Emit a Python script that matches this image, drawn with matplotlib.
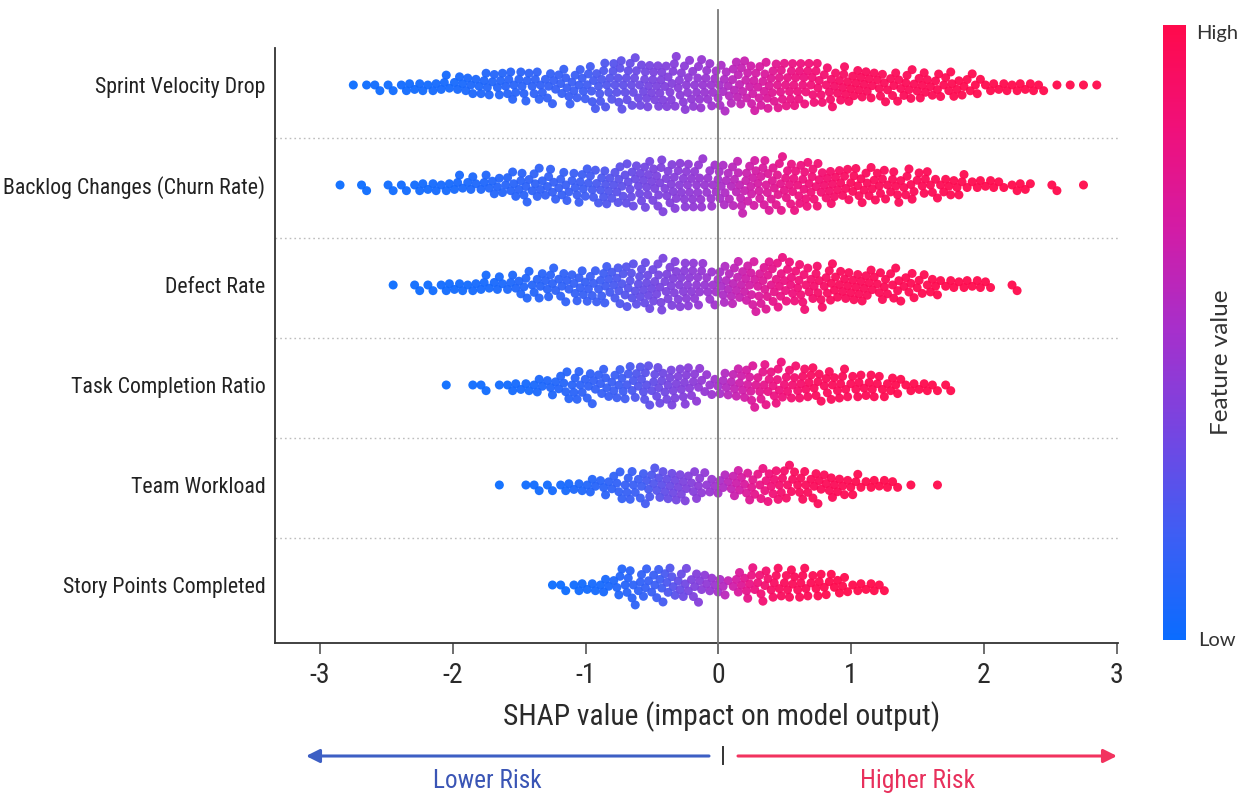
import numpy as np
import matplotlib
matplotlib.use("Agg")
import matplotlib.pyplot as plt
from matplotlib import font_manager
from matplotlib.colors import LinearSegmentedColormap, Normalize
from matplotlib.cm import ScalarMappable
from matplotlib.lines import Line2D

# ---------------------------------------------------------------- data
features = [
    "Sprint Velocity Drop",
    "Backlog Changes (Churn Rate)",
    "Defect Rate",
    "Task Completion Ratio",
    "Team Workload",
    "Story Points Completed",
]

# SHAP values are summarised as dot counts per 0.1-wide bin,
# starting at the left edge given for each feature.
bin_width = 0.1

sprint_start = -2.8
sprint_counts = [1, 1, 2, 2, 3, 3, 3, 4, 5, 5, 6, 6, 7, 7, 7, 7, 8, 8, 9, 10,
                 11, 11, 11, 11, 11, 11, 11, 10,
                 10, 11, 11, 11, 11, 11, 10, 10, 9, 9, 8, 7, 7, 7, 7, 7, 6, 6,
                 5, 4, 3, 3, 3, 3, 2, 1, 1, 1, 1]

backlog_start = -2.9
backlog_counts = [1, 0, 2, 0, 2, 2, 3, 3, 3, 4, 4, 5, 5, 6, 7, 7, 7, 7, 8, 8,
                  9, 9, 10, 11, 11, 11, 11, 11, 9,
                  10, 11, 11, 11, 11, 11, 11, 10, 9, 8, 8, 8, 7, 7, 7, 6, 5,
                  5, 4, 3, 3, 2, 3, 2, 0, 2, 0, 1]

defect_start = -2.5
defect_counts = [1, 0, 2, 2, 3, 3, 3, 4, 4, 5, 6, 6, 7, 7, 8, 8, 9, 9, 10, 11,
                 11, 11, 11, 10, 8,
                 9, 10, 11, 11, 11, 10, 10, 9, 9, 8, 8, 7, 7, 7, 6, 5, 4, 3,
                 3, 3, 2, 0, 2]

task_start = -2.1
task_counts = [1, 0, 1, 2, 1, 3, 3, 4, 5, 6, 7, 7, 7, 8, 8, 9, 9, 9, 9, 7, 5,
               6, 8, 9, 9, 9, 8, 8, 7, 7, 7, 6, 6, 5, 4, 3, 3, 2, 2]

workload_start = -1.7
workload_counts = [1, 0, 1, 2, 2, 3, 3, 4, 5, 6, 7, 8, 8, 8, 7, 7, 5,
                   5, 7, 7, 8, 8, 7, 7, 7, 6, 5, 4, 3, 3, 2, 1, 0, 1]

story_start = -1.3
story_counts = [1, 2, 3, 3, 4, 6, 7, 7, 8, 7, 7, 7, 5,
                4, 6, 7, 7, 7, 7, 7, 6, 5, 4, 3, 3, 2]

row_starts = [sprint_start, backlog_start, defect_start, task_start,
              workload_start, story_start]
row_counts = [sprint_counts, backlog_counts, defect_counts, task_counts,
              workload_counts, story_counts]

xticks = [-3, -2, -1, 0, 1, 2, 3]

# colour scale: relative SHAP position in a row -> feature value
pos_anchor = [-1.0, -0.7, -0.35, -0.175, -0.02, 0.02, 0.07, 0.175, 0.35, 0.7, 1.0]
feat_anchor = [0.0, 0.04, 0.17, 0.35, 0.47, 0.54, 0.63, 0.78, 0.93, 0.99, 1.0]

# ---------------------------------------------------------------- fonts
entries = font_manager.fontManager.ttflist
available = {f.name for f in entries}
narrow = None
for cand in ["Liberation Sans Narrow", "Roboto Condensed", "Noto Sans Condensed",
             "Open Sans Condensed", "DejaVu Sans Condensed"]:
    if cand in available:
        narrow = cand
        break
stretch = "normal"
if narrow is None:
    for fam in ["Noto Sans", "DejaVu Sans", "Open Sans", "Roboto"]:
        if any(f.name == fam and str(f.stretch) in ("condensed", "semi-condensed", "500", "600", "75", "87.5")
               for f in entries):
            narrow, stretch = fam, "condensed"
            break
if narrow is None:
    narrow = "Roboto"
plain = "Lato" if "Lato" in available else "DejaVu Sans"
plt.rcParams["font.family"] = [narrow, "DejaVu Sans"]
plt.rcParams["font.stretch"] = stretch

cmap = LinearSegmentedColormap.from_list(
    "feature", ["#0a6cff", "#3d5ef4", "#7446e2", "#a530cc",
                "#d21ca6", "#f0107a", "#ff0a4c"])

W, H = 1245, 796
fx = lambda p: p / W
fy = lambda p: 1 - p / H

fig = plt.figure(figsize=(W / 100, H / 100), dpi=100)
fig.patch.set_facecolor("white")
renderer = fig.canvas.get_renderer()
ax = fig.add_axes([fx(275), fy(643), fx(1118) - fx(275), fy(48) - fy(643)])
ax.set_xlim(-3.34, 3.01)
ax.set_ylim(-0.58, 5.37)

ppx = ax.transData.transform((1, 0))[0] - ax.transData.transform((0, 0))[0]
ppy = ax.transData.transform((0, 1))[1] - ax.transData.transform((0, 0))[1]


def swarm(xpix, d):
    """Place dots along y so none overlap (beeswarm)."""
    order = np.argsort(xpix, kind="stable")
    offs = np.zeros(len(xpix))
    px, py = [], []
    for i in order:
        x = xpix[i]
        nb = []
        k = len(px) - 1
        while k >= 0 and x - px[k] < d:
            nb.append((px[k], py[k]))
            k -= 1
        cands = [0.0]
        for nx, ny in nb:
            h = np.sqrt(max(d * d - (x - nx) ** 2, 0.0))
            cands += [ny + h, ny - h]
        cands.sort(key=lambda c: (abs(c), c))
        chosen = 0.0
        for c in cands:
            if all((x - nx) ** 2 + (c - ny) ** 2 >= d * d - 1e-6 for nx, ny in nb):
                chosen = c
                break
        offs[i] = chosen
        px.append(x)
        py.append(chosen)
    return offs


def fit_width(txt, target_px):
    """Scale a text's font size so its rendered width is target_px."""
    w = txt.get_window_extent(renderer).width
    txt.set_fontsize(txt.get_fontsize() * target_px / w)


# dots inside a bin are spread with a golden-ratio sequence so that
# neighbouring bins do not line up into a regular lattice
GOLDEN = 0.6180339887

n_rows = len(features)
for r, (start, counts) in enumerate(zip(row_starts, row_counts)):
    ypos = n_rows - 1 - r
    xs = []
    for b, n in enumerate(counts):
        lo = start + b * bin_width
        for j in range(n):
            xs.append(lo + ((0.5 + j * GOLDEN) % 1.0) * bin_width)
    xs = np.array(xs)
    offs = swarm(xs * ppx, 7.6)
    ys = ypos + offs / ppy
    rel = xs / np.abs(xs).max()
    fv = np.interp(rel, pos_anchor, feat_anchor)
    ax.scatter(xs, ys, c=fv, cmap=cmap, vmin=0, vmax=1, s=42,
               linewidths=0, alpha=0.95, zorder=2)

# separators between rows
for k in range(n_rows - 1):
    ax.axhline(k + 0.47, color="#bdbdbd", lw=1.0, ls=(0, (1.2, 2.2)), zorder=1)

# zero line, running above the plotting area
ax.axvline(0, ymin=0, ymax=(643 - 10) / (643 - 48), color="#7a7a7a", lw=1.3,
           zorder=3, clip_on=False)

ax.set_yticks(range(n_rows))
ylabels = ax.set_yticklabels(features[::-1], fontsize=15.5, color="#222222")
ax.tick_params(axis="y", length=0, pad=7)
ax.set_xticks(xticks)
xlabels = ax.set_xticklabels([str(t) for t in xticks], fontsize=18, color="#2a2a2a")
ax.tick_params(axis="x", length=8, width=1.2, color="#555555", pad=6)

# widest feature name spans about 262 px
widest = ylabels[features[::-1].index("Backlog Changes (Churn Rate)")]
w0 = widest.get_window_extent(renderer).width
ysize = min(17.0, 15.5 * 262 / w0)
for t in ylabels:
    t.set_fontsize(ysize)
# "-3" spans about 23 px
w3 = xlabels[0].get_window_extent(renderer).width
xsize = min(20.0, 18 * 23 / w3)
for t in xlabels:
    t.set_fontsize(xsize)

for side in ("top", "right"):
    ax.spines[side].set_visible(False)
for side in ("left", "bottom"):
    ax.spines[side].set_color("#333333")
    ax.spines[side].set_linewidth(1.3)

xl = fig.text(fx(722), fy(717), "SHAP value (impact on model output)", fontsize=20,
              color="#2a2a2a", ha="center", va="center")
fit_width(xl, 437)

# risk direction arrows
fig.add_artist(Line2D([fx(723), fx(723)], [fy(747), fy(764)], color="#333333",
                      lw=1.4, transform=fig.transFigure))
ax.annotate("", xy=(fx(306), fy(756)), xytext=(fx(709), fy(756)),
            xycoords="figure fraction", textcoords="figure fraction",
            arrowprops=dict(arrowstyle="-|>,head_length=0.8,head_width=0.4",
                            color="#3d5fc4", lw=2.2, shrinkA=0, shrinkB=0))
ax.annotate("", xy=(fx(1117), fy(756)), xytext=(fx(738), fy(756)),
            xycoords="figure fraction", textcoords="figure fraction",
            arrowprops=dict(arrowstyle="-|>,head_length=0.8,head_width=0.4",
                            color="#f2335f", lw=2.2, shrinkA=0, shrinkB=0))
lo_t = fig.text(fx(487), fy(781), "Lower Risk", fontsize=17.5, color="#3a55b5",
                ha="center", va="center")
hi_t = fig.text(fx(918), fy(781), "Higher Risk", fontsize=17.5, color="#e8305c",
                ha="center", va="center")
fit_width(lo_t, 108)
fit_width(hi_t, 115)

# colour bar
cax = fig.add_axes([fx(1163), fy(640), fx(1186) - fx(1163), fy(25) - fy(640)])
cb = fig.colorbar(ScalarMappable(norm=Normalize(0, 1), cmap=cmap), cax=cax)
cb.outline.set_visible(False)
cb.set_ticks([])
fig.text(fx(1217), fy(33), "High", fontsize=14.5, color="#333333",
         ha="center", va="center", family=[plain, "DejaVu Sans"], stretch="normal")
fig.text(fx(1217), fy(640), "Low", fontsize=14.5, color="#333333",
         ha="center", va="center", family=[plain, "DejaVu Sans"], stretch="normal")
fig.text(fx(1222), fy(362), "Feature value", fontsize=17.5, color="#333333",
         ha="center", va="center", rotation=90, family=[plain, "DejaVu Sans"],
         stretch="normal")

fig.savefig("out.png", dpi=100, facecolor="white")
